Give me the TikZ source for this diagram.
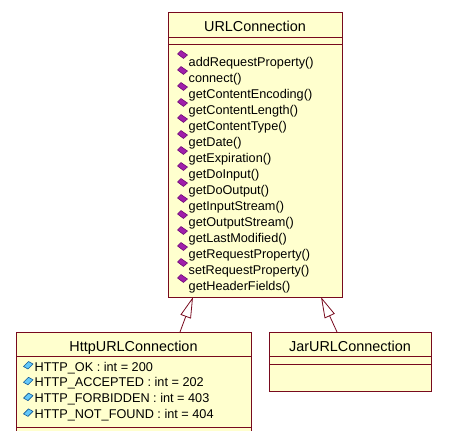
\documentclass[tikz,border=0pt]{standalone}
\usepackage{fontspec}
\setmainfont{Liberation Sans}
\usetikzlibrary{arrows.meta,calc}
\definecolor{boxfill}{RGB}{255,255,206}
\definecolor{boxline}{RGB}{120,10,30}
\definecolor{opfill}{RGB}{160,30,170}
\definecolor{opline}{RGB}{100,0,110}
\definecolor{atfill}{RGB}{100,200,250}
\definecolor{atline}{RGB}{20,90,150}
\tikzset{
  classbox/.style={draw=boxline, fill=boxfill, line width=1pt, rectangle, inner sep=0pt, outer sep=0pt, anchor=north west},
  sep/.style={draw=boxline, line width=1pt},
  title/.style={inner sep=0pt, anchor=base, font=\fontsize{14.4}{16}\selectfont},
  member/.style={inner sep=0pt, anchor=base west, font=\fontsize{12.7}{15}\selectfont},
  gen/.style={draw=boxline, line width=0.8pt, -{Triangle[open, length=21pt, width=11pt]}},
  opicon/.style={fill=opfill, draw=opline, line width=0.5pt, line join=round},
  aticon/.style={fill=atfill, draw=atline, line width=0.6pt, line join=round}
}
\begin{document}
\begin{tikzpicture}[x=1pt, y=-1pt]
\useasboundingbox (0,0) rectangle (458,431);
\clip (0,0) rectangle (458,431);
% URLConnection
\node[classbox, minimum width=174pt, minimum height=285pt] (url) at (168,12) {};
\draw[sep] ($(url.north west)+(0,25)$) -- ($(url.north east)+(0,25)$);
\draw[sep] ($(url.north west)+(0,32)$) -- ($(url.north east)+(0,32)$);
\node[title] (urlt) at (255,31.5) {URLConnection};
\foreach \m [count=\i from 0] in {addRequestProperty(), connect(), getContentEncoding(), getContentLength(), getContentType(), getDate(), getExpiration(), getDoInput(), getDoOutput(), getInputStream(), getOutputStream(), getLastModified(), getRequestProperty(), setRequestProperty(), getHeaderFields()} {
  \path[opicon] ($(177.5,54)+(0,16*\i)$) -- ($(181,50.5)+(0,16*\i)$) -- ($(187.5,55)+(0,16*\i)$) -- ($(183.5,58.5)+(0,16*\i)$) -- cycle;
  \node[member] (m\i) at ($(188.5,66)+(0,16*\i)$) {\m};
}
% HttpURLConnection
\node[classbox, minimum width=235pt, minimum height=130pt] (http) at (16,332) {};
\draw[sep] ($(http.north west)+(0,24)$) -- ($(http.north east)+(0,24)$);
\draw[sep] ($(http.north west)+(0,95)$) -- ($(http.north east)+(0,95)$);
\node[title] (httpt) at (133.5,351.5) {HttpURLConnection};
\foreach \a [count=\i from 0] in {HTTP\_OK : int = 200, HTTP\_ACCEPTED : int = 202, HTTP\_FORBIDDEN : int = 403, HTTP\_NOT\_FOUND : int = 404} {
  \path[aticon] ($(23.5,366.5)+(0,15.8*\i)$) -- ($(28.5,361.5)+(0,15.8*\i)$) -- ($(33,364)+(0,15.8*\i)$) -- ($(28,369)+(0,15.8*\i)$) -- cycle;
  \node[member] (a\i) at ($(34.5,371)+(0,15.8*\i)$) {\a};
}
% JarURLConnection
\node[classbox, minimum width=162pt, minimum height=59pt] (jar) at (269,332) {};
\draw[sep] ($(jar.north west)+(0,24)$) -- ($(jar.north east)+(0,24)$);
\draw[sep] ($(jar.north west)+(0,32)$) -- ($(jar.north east)+(0,32)$);
\node[title] (jart) at (350,351) {JarURLConnection};
% generalizations
\coordinate (h1) at ($(http.north west)+(164,0)$);
\coordinate (u1) at ($(url.south west)+(25,0)$);
\coordinate (j1) at ($(jar.north west)+(68,0)$);
\coordinate (u2) at ($(url.south west)+(153,0)$);
\draw[gen] (h1) -- (u1);
\draw[gen] (j1) -- (u2);
\end{tikzpicture}
\end{document}
